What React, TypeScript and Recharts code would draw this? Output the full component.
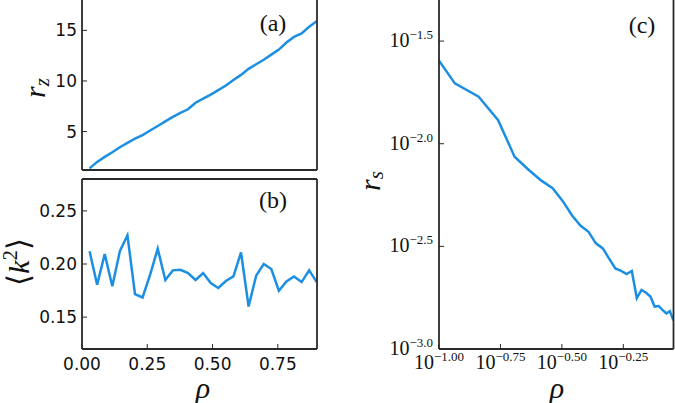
import React from "react";
import { LineChart, Line, XAxis, YAxis } from "recharts";

// rho grid shared by all three panels
const rho = [
  0.029, 0.058, 0.087, 0.116, 0.145, 0.174, 0.203, 0.232, 0.261, 0.29, 0.319,
  0.348, 0.377, 0.406, 0.435, 0.464, 0.493, 0.522, 0.551, 0.58, 0.609, 0.638,
  0.667, 0.696, 0.725, 0.754, 0.783, 0.812, 0.841, 0.87, 0.899,
];

// (a) r_z
const rz = [
  1.36, 2.0, 2.5, 2.95, 3.45, 3.88, 4.3, 4.65, 5.1, 5.55, 6.0, 6.45, 6.85, 7.2,
  7.85, 8.25, 8.65, 9.1, 9.55, 10.1, 10.6, 11.2, 11.65, 12.1, 12.6, 13.1, 13.8,
  14.35, 14.7, 15.35, 15.9,
];

// (b) <k^2>
const k2 = [
  0.212, 0.1805, 0.2094, 0.179, 0.212, 0.227, 0.1717, 0.1685, 0.19, 0.2144,
  0.185, 0.194, 0.1946, 0.1915, 0.185, 0.1915, 0.182, 0.1774, 0.184, 0.1883,
  0.211, 0.16, 0.189, 0.2, 0.1953, 0.1748, 0.1836, 0.1883, 0.183, 0.194, 0.183,
];

// (c) r_s, starts at rho[2]
const rs = [
  0.03228, 0.01968, 0.01694, 0.01303, 0.00865, 0.00745, 0.00661, 0.00607,
  0.00525, 0.00447, 0.00398, 0.00372, 0.00327, 0.00309, 0.00275, 0.00247,
  0.0024, 0.00232, 0.0024, 0.00177, 0.00194, 0.00188, 0.0018, 0.00161,
  0.00162, 0.00155, 0.00149, 0.00153, 0.00138,
];

const xTicksAB = [0, 0.25, 0.5, 0.75];
const yTicksA = [5, 10, 15];
const yTicksB = [0.15, 0.2, 0.25];
const xTicksC = [0.1, 0.177828, 0.316228, 0.562341];
const xTickExpC = ["\u22121.00", "\u22120.75", "\u22120.50", "\u22120.25"];
const yTicksC = [0.001, 0.0031623, 0.01, 0.031623];
const yTickExpC = ["\u22123.0", "\u22122.5", "\u22122.0", "\u22121.5"];

const dataAB = rho.map((r, i) => ({ rho: r, rz: rz[i], k2: k2[i] }));
const dataC = rs.map((v, i) => ({ rho: rho[i + 2], rs: v }));

const BLUE = "#1c8fe2";
const FRAME = { stroke: "#2a2a2a", strokeWidth: 1.8 };
const TICKLINE = { stroke: "#2a2a2a", strokeWidth: 1 };
const SANS = "DejaVu Sans";
const SERIF = "Liberation Serif";

const LeftSans = (fmt: (v: number) => string) => (props: any) => (
  <text x={props.x} y={props.y} dy={6} textAnchor="end" fontFamily={SANS} fontSize={17} fill="#111">
    {fmt(props.payload.value)}
  </text>
);

const BottomSans = (props: any) => (
  <text x={props.x} y={props.y} dy={12.5} textAnchor="middle" fontFamily={SANS} fontSize={17} fill="#111">
    {props.payload.value.toFixed(2)}
  </text>
);

const LeftLog = (props: any) => (
  <text x={props.x} y={props.y} dy={6} textAnchor="end" fontFamily={SERIF} fill="#111">
    <tspan fontSize={20}>10</tspan>
    <tspan fontSize={13} dy={-8}>{yTickExpC[props.index]}</tspan>
  </text>
);

const BottomLog = (props: any) => (
  <text x={props.x} y={props.y} dy={11.5} textAnchor="middle" fontFamily={SERIF} fill="#111">
    <tspan fontSize={20}>10</tspan>
    <tspan fontSize={13} dy={-8}>{xTickExpC[props.index]}</tspan>
  </text>
);

const frameAxes = (xDomain: number[], xTicks: number[], yDomain: number[], yTicks: number[], topH: number, rightW: number, log = false) => [
  <XAxis
    key="xt"
    xAxisId="t"
    orientation="top"
    dataKey="rho"
    type="number"
    scale={log ? "log" : "auto"}
    domain={xDomain}
    ticks={xTicks}
    interval={0}
    allowDataOverflow
    height={topH}
    tick={false}
    tickSize={-5}
    axisLine={FRAME}
    tickLine={TICKLINE}
  />,
  <YAxis
    key="yr"
    yAxisId="r"
    orientation="right"
    type="number"
    scale={log ? "log" : "auto"}
    domain={yDomain}
    ticks={yTicks}
    interval={0}
    allowDataOverflow
    width={rightW}
    tick={false}
    tickSize={-5}
    axisLine={FRAME}
    tickLine={TICKLINE}
  />,
];

function PanelA() {
  return (
    <div style={{ position: "absolute", left: 0, top: -11 }}>
      <LineChart width={330} height={186} data={dataAB} margin={{ top: 0, right: 0, bottom: 0, left: 0 }}>
        <XAxis
          dataKey="rho"
          type="number"
          domain={[0, 0.9]}
          ticks={xTicksAB}
          interval={0}
          allowDataOverflow
          height={5}
          tick={false}
          tickSize={-5}
          axisLine={FRAME}
          tickLine={TICKLINE}
        />
        <YAxis
          type="number"
          domain={[1.2, 18.1]}
          ticks={yTicksA}
          interval={0}
          allowDataOverflow
          width={82}
          tickSize={-5}
          tickMargin={10}
          tick={LeftSans((v) => String(v))}
          axisLine={FRAME}
          tickLine={TICKLINE}
        />
        {frameAxes([0, 0.9], xTicksAB, [1.2, 18.1], yTicksA, 10, 13)}
        <Line type="linear" dataKey="rz" stroke={BLUE} strokeWidth={2.5} dot={false} isAnimationActive={false} />
      </LineChart>
    </div>
  );
}

function PanelB() {
  return (
    <div style={{ position: "absolute", left: 0, top: 174 }}>
      <LineChart width={330} height={215} data={dataAB} margin={{ top: 0, right: 0, bottom: 0, left: 0 }}>
        <XAxis
          dataKey="rho"
          type="number"
          domain={[0, 0.9]}
          ticks={xTicksAB}
          interval={0}
          allowDataOverflow
          height={40}
          tickSize={-5}
          tickMargin={13}
          tick={BottomSans}
          axisLine={FRAME}
          tickLine={TICKLINE}
        />
        <YAxis
          type="number"
          domain={[0.12, 0.28]}
          ticks={yTicksB}
          interval={0}
          allowDataOverflow
          width={82}
          tickSize={-5}
          tickMargin={10}
          tick={LeftSans((v) => v.toFixed(2))}
          axisLine={FRAME}
          tickLine={TICKLINE}
        />
        {frameAxes([0, 0.9], xTicksAB, [0.12, 0.28], yTicksB, 5, 13)}
        <Line type="linear" dataKey="k2" stroke={BLUE} strokeWidth={2.5} dot={false} isAnimationActive={false} />
      </LineChart>
    </div>
  );
}

function PanelC() {
  return (
    <div style={{ position: "absolute", left: 379, top: -11 }}>
      <LineChart width={296} height={400} data={dataC} margin={{ top: 0, right: 0, bottom: 0, left: 0 }}>
        <XAxis
          dataKey="rho"
          type="number"
          scale="log"
          domain={[0.1, 0.9]}
          ticks={xTicksC}
          interval={0}
          allowDataOverflow
          height={40}
          tickSize={-5}
          tickMargin={13}
          tick={BottomLog}
          axisLine={FRAME}
          tickLine={TICKLINE}
        />
        <YAxis
          type="number"
          scale="log"
          domain={[0.001, 0.0507]}
          ticks={yTicksC}
          interval={0}
          allowDataOverflow
          width={60}
          tickSize={-5}
          tickMargin={11}
          tick={LeftLog}
          axisLine={FRAME}
          tickLine={TICKLINE}
        />
        {frameAxes([0.1, 0.9], xTicksC, [0.001, 0.0507], yTicksC, 10, 1.5, true)}
        <Line type="linear" dataKey="rs" stroke={BLUE} strokeWidth={2.5} dot={false} isAnimationActive={false} />
      </LineChart>
    </div>
  );
}

function Titles() {
  const it = { fontFamily: SERIF, fontStyle: "italic" as const, fill: "#111" };
  return (
    <svg width={675} height={403} style={{ position: "absolute", left: 0, top: 0, pointerEvents: "none" }}>
      <text transform="translate(45,88) rotate(-90)" textAnchor="middle" fontSize={30} {...it}>
        r<tspan fontSize={21} dy={4}>z</tspan>
      </text>
      <text transform="translate(29,262) rotate(-90)" textAnchor="middle" fill="#111">
        <tspan fontFamily={SANS} fontSize={31} fontWeight={300}>{"\u27E8"}</tspan>
        <tspan fontFamily={SERIF} fontStyle="italic" fontSize={30}>k</tspan>
        <tspan fontFamily={SERIF} fontSize={20} dy={-12}>2</tspan>
        <tspan fontFamily={SANS} fontSize={31} fontWeight={300} dy={12}>{"\u27E9"}</tspan>
      </text>
      <text transform="translate(380,181) rotate(-90)" textAnchor="middle" fontSize={30} {...it}>
        r<tspan fontSize={21} dy={3}>s</tspan>
      </text>
      <text x={203} y={398} textAnchor="middle" fontSize={30} {...it}>ρ</text>
      <text x={557} y={398} textAnchor="middle" fontSize={30} {...it}>ρ</text>
      <text x={273} y={31} textAnchor="middle" fontSize={24} fontFamily={SERIF} fill="#111">(a)</text>
      <text x={273} y={208} textAnchor="middle" fontSize={24} fontFamily={SERIF} fill="#111">(b)</text>
      <text x={642} y={33} textAnchor="middle" fontSize={24} fontFamily={SERIF} fill="#111">(c)</text>
    </svg>
  );
}

export default function App() {
  return (
    <div style={{ position: "absolute", left: 0, top: 0, width: 675, height: 403, overflow: "hidden", background: "#fff" }}>
      <PanelA />
      <PanelB />
      <PanelC />
      <Titles />
    </div>
  );
}
